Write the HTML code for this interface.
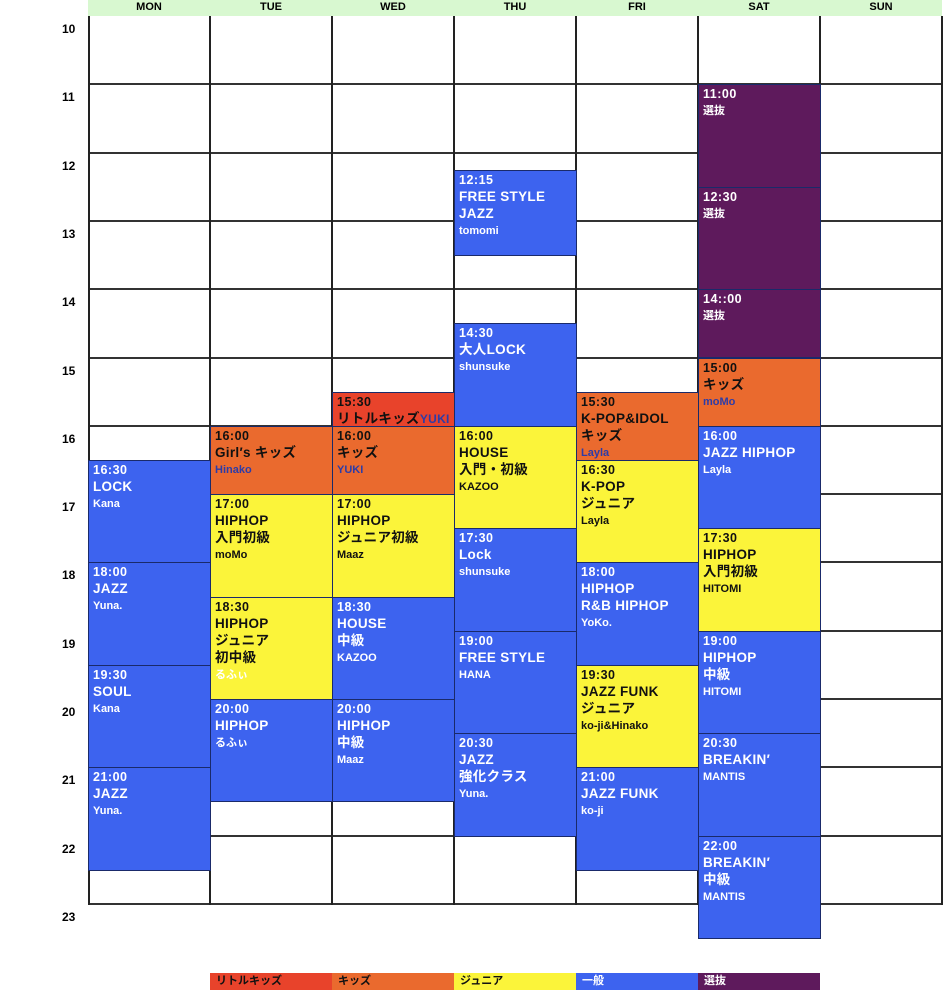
<!DOCTYPE html><html><head><meta charset="utf-8"><style>
body{margin:0;width:946px;height:1000px;background:#fff;position:relative;overflow:hidden;font-family:"Liberation Sans","Noto Sans CJK JP",sans-serif;}
.hdr{position:absolute;top:0;height:16px;left:88px;width:854px;background:#d8f8d0;}
.d{position:absolute;top:0;height:16px;font-size:11px;font-weight:bold;text-align:center;line-height:14px;width:122px;}
.h{position:absolute;left:62px;font-size:12px;font-weight:bold;}
.hl{position:absolute;left:88px;width:854px;height:2px;background:#333;}
.vl{position:absolute;top:16px;height:889px;width:2px;background:#222;}
.b{position:absolute;box-sizing:border-box;border:1px solid #1a2a6a;padding:1px 4px;font-weight:bold;overflow:hidden;white-space:nowrap;}
.b .t{font-size:12.5px;line-height:16px;letter-spacing:.5px}
.b .n{font-size:13.5px;line-height:17px;letter-spacing:.3px}
.b .p{font-size:11px;line-height:18px}
.bl{background:#3d63ef;color:#fff}.ye{background:#fbf43a;color:#111}.or{background:#ea6a2e;color:#111}.re{background:#e8432b;color:#111}.pu{background:#5e1a5c;color:#fff}
.or .p{color:#2d3ca8}.re .p{color:#2d3ca8}
.lg{position:absolute;top:973px;height:17px;width:122px;font-size:11px;font-weight:bold;line-height:17px;padding-left:6px;box-sizing:border-box}
</style></head><body>
<div class="hdr"></div>
<div class="d" style="left:88px">MON</div><div class="d" style="left:210px">TUE</div><div class="d" style="left:332px">WED</div><div class="d" style="left:454px">THU</div><div class="d" style="left:576px">FRI</div><div class="d" style="left:698px">SAT</div><div class="d" style="left:820px">SUN</div>
<div id="g"></div>
<script>
var y=function(t){return 16+(t-10)*68.3};
var h='';
for(var i=10;i<=23;i++){h+='<div class="h" style="top:'+(y(i)+6)+'px">'+i+'</div>';if(i>10)h+='<div class="hl" style="top:'+(y(i)-1)+'px"></div>';}
[88,209,331,453,575,697,819,941].forEach(function(x){h+='<div class="vl" style="left:'+x+'px"></div>'});
var cols={M:88,T:210,W:332,R:454,F:576,S:698};
var B=[
['M',16.5,18,'bl','16:30',['LOCK'],'Kana'],['M',18,19.5,'bl','18:00',['JAZZ'],'Yuna.'],['M',19.5,21,'bl','19:30',['SOUL'],'Kana'],['M',21,22.5,'bl','21:00',['JAZZ'],'Yuna.'],
['T',16,17,'or','16:00',['Girl′s キッズ'],'Hinako'],['T',17,18.5,'ye','17:00',['HIPHOP','入門初級'],'moMo'],['T',18.5,20,'ye','18:30',['HIPHOP','ジュニア','初中級'],'<span style="color:#fff">るふぃ</span>'],['T',20,21.5,'bl','20:00',['HIPHOP'],'るふぃ'],
['W',15.5,16,'re','15:30',['リトルキッズ<span style="color:#2d3ca8;font-size:12px">YUKI</span>'],''],['W',16,17,'or','16:00',['キッズ'],'YUKI'],['W',17,18.5,'ye','17:00',['HIPHOP','ジュニア初級'],'Maaz'],['W',18.5,20,'bl','18:30',['HOUSE','中級'],'KAZOO'],['W',20,21.5,'bl','20:00',['HIPHOP','中級'],'Maaz'],
['R',12.25,13.5,'bl','12:15',['FREE STYLE','JAZZ'],'tomomi'],['R',14.5,16,'bl','14:30',['大人LOCK'],'shunsuke'],['R',16,17.5,'ye','16:00',['HOUSE','入門・初級'],'KAZOO'],['R',17.5,19,'bl','17:30',['Lock'],'shunsuke'],['R',19,20.5,'bl','19:00',['FREE STYLE'],'HANA'],['R',20.5,22,'bl','20:30',['JAZZ','強化クラス'],'Yuna.'],
['F',15.5,16.5,'or','15:30',['K-POP&amp;IDOL','キッズ'],'Layla'],['F',16.5,18,'ye','16:30',['K-POP','ジュニア'],'Layla'],['F',18,19.5,'bl','18:00',['HIPHOP','R&amp;B HIPHOP'],'YoKo.'],['F',19.5,21,'ye','19:30',['JAZZ FUNK','ジュニア'],'ko-ji&amp;Hinako'],['F',21,22.5,'bl','21:00',['JAZZ FUNK'],'ko-ji'],
['S',11,12.5,'pu','11:00',[],'選抜'],['S',12.5,14,'pu','12:30',[],'選抜'],['S',14,15,'pu','14::00',[],'選抜'],['S',15,16,'or','15:00',['キッズ'],'moMo'],['S',16,17.5,'bl','16:00',['JAZZ HIPHOP'],'Layla'],['S',17.5,19,'ye','17:30',['HIPHOP','入門初級'],'HITOMI'],['S',19,20.5,'bl','19:00',['HIPHOP','中級'],'HITOMI'],['S',20.5,22,'bl','20:30',['BREAKIN′'],'MANTIS'],['S',22,23.5,'bl','22:00',['BREAKIN′','中級'],'MANTIS']
];
B.forEach(function(b){var t=y(b[1]),bt=y(b[2]);h+='<div class="b '+b[3]+'" style="left:'+cols[b[0]]+'px;width:123px;top:'+t+'px;height:'+(bt-t+1)+'px"><div class="t">'+b[4]+'</div>'+b[5].map(function(s){return '<div class="n">'+s+'</div>'}).join('')+(b[6]?'<div class="p">'+b[6]+'</div>':'')+'</div>';});
document.getElementById('g').innerHTML=h;
</script>
<div class="lg re" style="left:210px">リトルキッズ</div><div class="lg or" style="left:332px">キッズ</div><div class="lg ye" style="left:454px">ジュニア</div><div class="lg bl" style="left:576px;color:#fff">一般</div><div class="lg pu" style="left:698px;color:#fff">選抜</div>
</body></html>
